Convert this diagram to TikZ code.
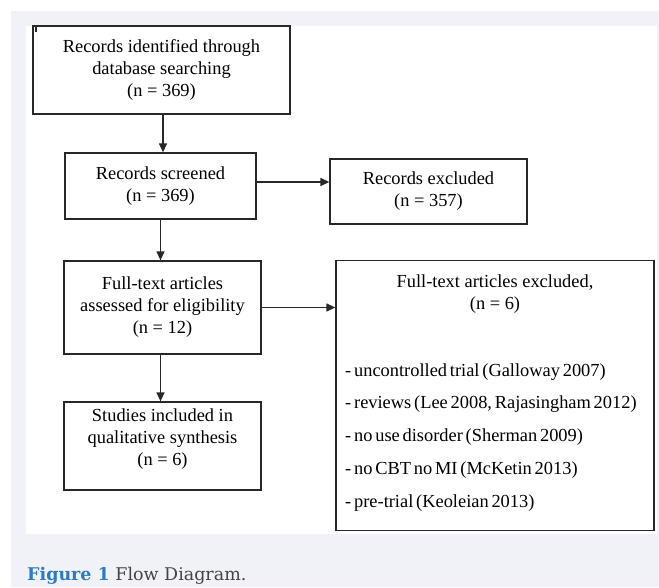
\documentclass[tikz,border=0pt]{standalone}
\usepackage{fontspec}
\setmainfont{Liberation Serif}
\newfontfamily\capfont{DejaVu Serif}
\usetikzlibrary{arrows.meta}
\definecolor{panel}{RGB}{240,242,247}
\definecolor{capblue}{RGB}{46,122,192}
\definecolor{capgray}{RGB}{68,68,68}
\definecolor{frame}{RGB}{40,40,40}
\newcommand\tightspaces{\spaceskip=2.8pt plus 1pt\relax}

\begin{document}
\begin{tikzpicture}[x=1pt, y=-1pt,
    box/.style={draw=frame, line width=1.3pt, fill=white, inner sep=0pt},
    boxtext/.style={align=center, font=\fontsize{18.4}{22}\selectfont},
    reasontext/.style={font=\fontsize{18.4}{22}\selectfont},
    arr/.style={-{Triangle[length=9pt,width=8pt]}, line width=1.3pt, frame}]

    % background
    \useasboundingbox (0,0) rectangle (659,587);
    \fill[white] (0,0) rectangle (659,587);
    \fill[panel] (11,11) rectangle (659,587);
    \fill[white] (26,26) rectangle (657,534);

    % left column
    \node[box, boxtext, minimum width=257pt, minimum height=88pt] (rec) at (161.5,70)
        {Records identified through\\database searching\\(n = 369)};
    \node[box, boxtext, minimum width=191pt, minimum height=66pt] (scr) at (160.5,186)
        {Records screened\\(n = 369)};
    \node[box, boxtext, minimum width=197pt, minimum height=93pt] (full) at (162.5,307.5)
        {Full-text articles\\assessed for eligibility\\(n = 12)};
    \node[box, minimum width=197pt, minimum height=88pt] (incl) at (162.5,446) {};
    \node[boxtext] (incltxt) at (162.5,439)
        {Studies included in\\qualitative synthesis\\(n = 6)};
    \draw[line width=1.6pt, frame] (36,26) -- (36,32);

    % right column
    \node[box, boxtext, minimum width=197pt, minimum height=65pt] (excl) at (428.5,191.5)
        {Records excluded\\(n = 357)};
    \node[box, minimum width=318pt, minimum height=270pt] (fullex) at (495,395.5) {};
    \node[boxtext] (fullextitle) at (495,294)
        {Full-text articles excluded,\\(n = 6)};
    \foreach \reason [count=\i] in {{- uncontrolled trial (Galloway 2007)},
        {- reviews (Lee 2008, Rajasingham 2012)},
        {- no use disorder (Sherman 2009)},
        {- no CBT no MI (McKetin 2013)},
        {- pre-trial (Keoleian 2013)}}
        \node[reasontext, anchor=base west, inner sep=0pt] (reason\i) at (345,{376+32.75*(\i-1)}) {\tightspaces\reason};

    % connectors
    \draw[arr] ([xshift=1.5pt]rec.south) -- ([xshift=1.5pt]rec.south |- scr.north);
    \draw[arr] (scr.south) -- (scr.south |- full.north);
    \draw[arr] ([xshift=-2pt]full.south) -- ([xshift=-2pt]full.south |- incl.north);
    \draw[arr] ([yshift=4pt]scr.east) -- ([yshift=4pt]scr.east -| excl.west);
    \draw[arr] (full.east) -- (full.east -| fullex.west);

    % caption
    \node[anchor=base west, inner sep=0pt, font=\capfont\fontsize{17.5}{21}\selectfont, text=capgray] (cap) at (27,580)
        {\textcolor{capblue}{\bfseries Figure 1} Flow Diagram.};

\end{tikzpicture}
\end{document}
